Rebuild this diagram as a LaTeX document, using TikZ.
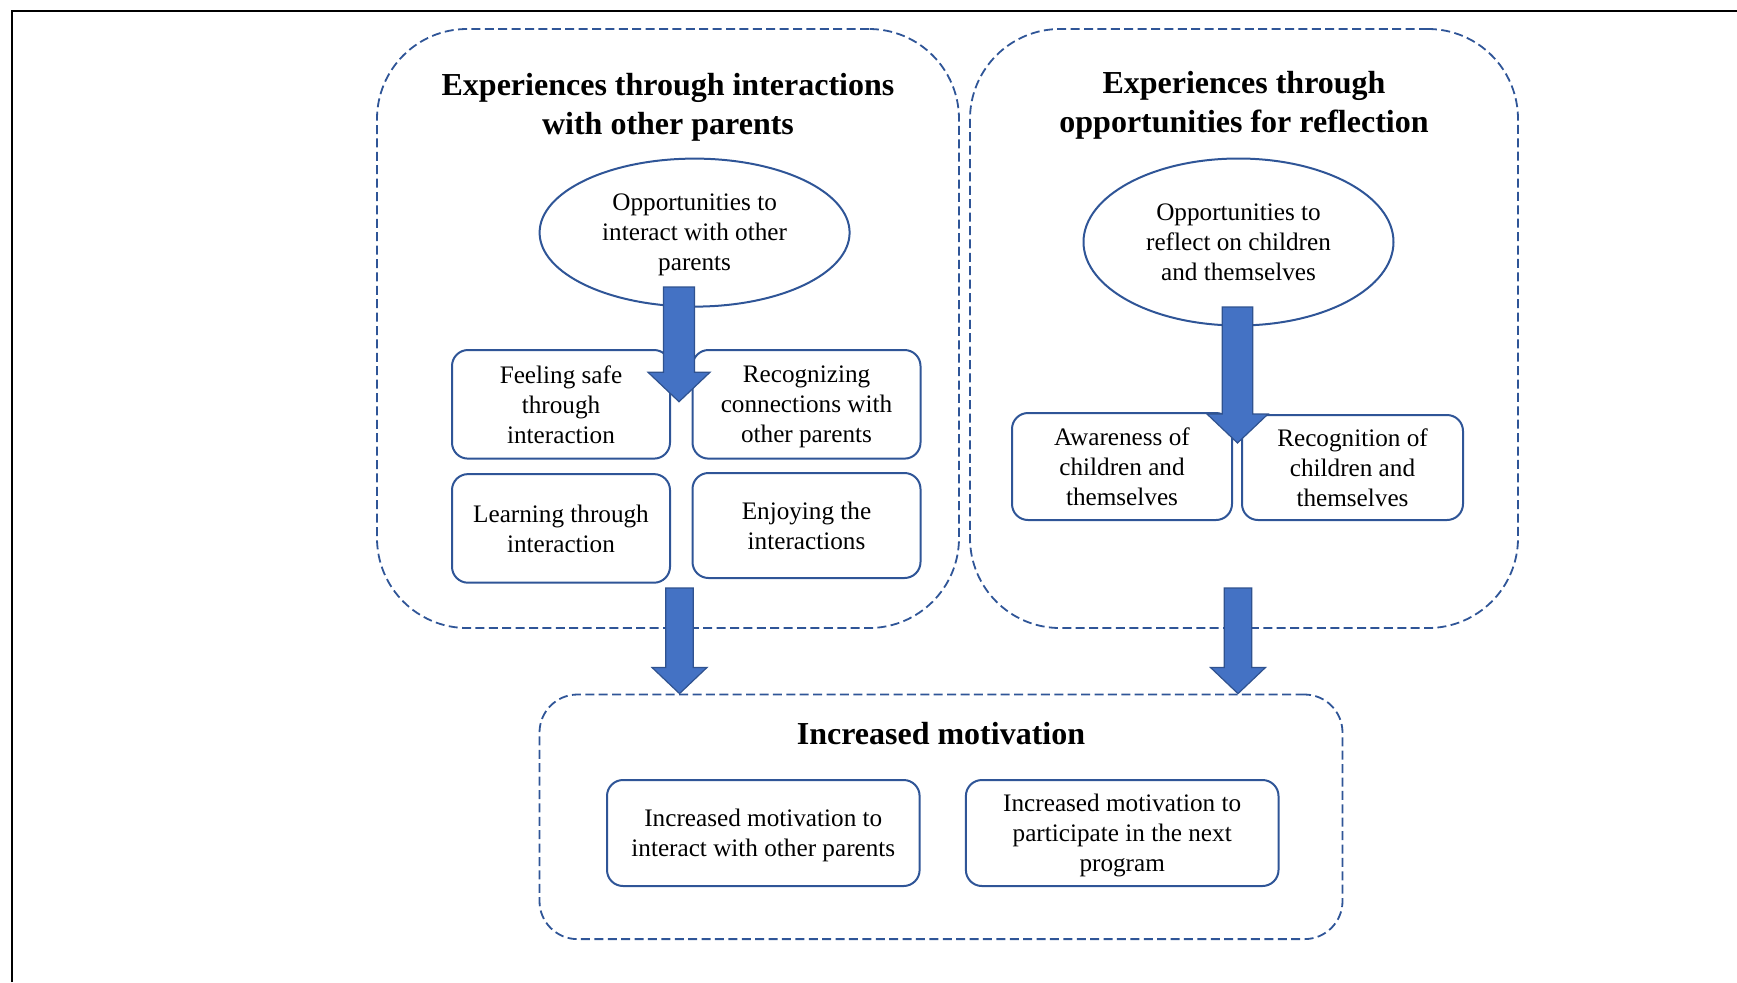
\documentclass[tikz,border=0pt]{standalone}
\usepackage{fontspec}
\setmainfont{Liberation Serif}
\usetikzlibrary{shapes.geometric,calc}

\definecolor{linecol}{HTML}{2F5597}
\definecolor{arrowfill}{HTML}{4472C4}
\definecolor{arrowline}{HTML}{2F528F}

\tikzset{
	groupbox/.style={draw=linecol, dash pattern=on 4.5pt off 2.2pt, line width=0.9pt, rounded corners=#1, inner sep=0pt},
	grouptitle/.style={font=\fontsize{16}{19.5}\selectfont\bfseries, align=center, text depth=0.3pt},
	bodytext/.style={font=\fontsize{12.6}{15}\selectfont, align=center, inner sep=0pt, text depth=-3.3pt},
	itembox/.style={bodytext, draw=linecol, line width=1pt, rounded corners=8pt, fill=white},
	topic/.style={bodytext, ellipse, draw=linecol, line width=1pt, fill=white},
	fatarrow/.style={fill=arrowfill, draw=arrowline, line width=0.6pt}
}

% block arrow from #2 down to its tip #3, #1 = half width of the head
\newcommand{\blockarrow}[3][31]{%
	\filldraw[fatarrow] ($(#2)+(-#1/2,0)$) -- ($(#3)+(-#1/2,-#1*0.95)$) -- ($(#3)+(-#1,-#1*0.95)$) -- (#3)
		-- ($(#3)+(#1,-#1*0.95)$) -- ($(#3)+(#1/2,-#1*0.95)$) -- ($(#2)+(#1/2,0)$) -- cycle;}

\begin{document}
\begin{tikzpicture}[x=0.5pt, y=-0.5pt]
	\useasboundingbox (0,0) rectangle (1737,982);
	%\draw[help lines] (0,0) grid[step=100] (1737,982);
	\draw[line width=1.3pt] (12,982) -- (12,11) -- (1737,11);

	\node[groupbox=45pt, minimum width=291pt, minimum height=299.5pt] (grpA) at (668,328.5) {};
	\node[groupbox=45pt, minimum width=274pt, minimum height=299.5pt] (grpB) at (1244,328.5) {};
	\node[groupbox=19pt, minimum width=401.5pt, minimum height=122.3pt] (grpC) at (941,816.8) {};

	\node[grouptitle] (titA) at (668,104) {Experiences through interactions\\with other parents};
	\node[grouptitle] (titB) at (1244,101.8) {Experiences through\\opportunities for reflection};
	\node[grouptitle] (titC) at (941,733.7) {Increased motivation};

	\node[topic, minimum width=155pt, minimum height=74pt] (oppA) at (694.6,232.6) {Opportunities to\\interact with other\\parents};
	\node[topic, minimum width=155pt, minimum height=83.5pt] (oppB) at (1238.5,242) {Opportunities to\\reflect on children\\and themselves};

	\node[itembox, minimum width=109pt, minimum height=54.3pt] (safe) at (561,404.3) {Feeling safe\\through\\interaction};
	\node[itembox, minimum width=114pt, minimum height=54.3pt] (conn) at (806.5,404.3) {Recognizing\\connections with\\other parents};
	\node[itembox, minimum width=109pt, minimum height=54.3pt] (learn) at (561,528.4) {Learning through\\interaction};
	\node[itembox, minimum width=114pt, minimum height=52.5pt] (enjoy) at (806.5,525.5) {Enjoying the\\interactions};

	\node[itembox, minimum width=110pt, minimum height=53.5pt] (aware) at (1122,466.5) {Awareness of\\children and\\themselves};
	\node[itembox, minimum width=110.5pt, minimum height=52.5pt] (recog) at (1352.5,467.5) {Recognition of\\children and\\themselves};

	\node[itembox, minimum width=156.3pt, minimum height=53pt] (motA) at (763.3,833) {Increased motivation to\\interact with other parents};
	\node[itembox, minimum width=156.3pt, minimum height=53pt] (motB) at (1122.2,833) {Increased motivation to\\participate in the next\\program};

	\coordinate (a1) at (679,287);
	\coordinate (a2) at (1237.5,307);
	\coordinate (a3) at (679.5,588);
	\coordinate (a4) at (1238,588);
	\coordinate (t1) at (679,401.7);
	\coordinate (t2) at (1237.5,443);

	\blockarrow{a1}{t1}
	\blockarrow[30.5]{a2}{t2}
	\blockarrow[27.5]{a3}{a3 |- grpC.north}
	\blockarrow[27.5]{a4}{a4 |- grpC.north}
\end{tikzpicture}
\end{document}
